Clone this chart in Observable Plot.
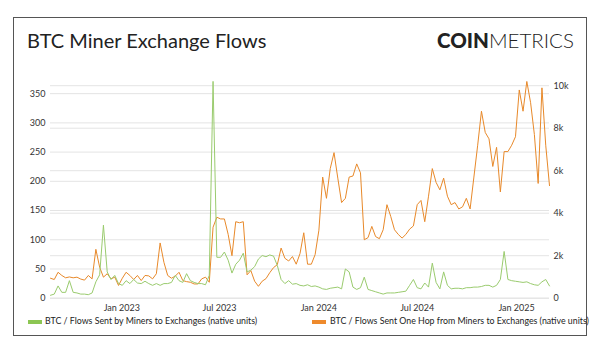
<!DOCTYPE html>
<html><head><meta charset="utf-8">
<script src="https://cdn.jsdelivr.net/npm/d3@7"></script>
<script src="https://cdn.jsdelivr.net/npm/@observablehq/plot@0.6"></script>
<style>
html,body{margin:0;padding:0;background:#fff;}
body{width:600px;height:351px;position:relative;overflow:hidden;font-family:Lato,sans-serif;}
#frame{position:absolute;left:13px;top:17px;width:574px;height:319px;border:1px solid #555;box-sizing:border-box;overflow:hidden;}
#title{position:absolute;left:27px;top:30px;font-size:20px;line-height:1;color:#222;white-space:nowrap;}
#logo{position:absolute;left:437px;top:30px;font-size:20.5px;line-height:1;color:#222;white-space:nowrap;}
#logo b{font-weight:900;}
#logo span{font-weight:300;}
#chart{position:absolute;left:0;top:0;}
.leg{position:absolute;top:317px;font-size:8.8px;line-height:1;color:#222;white-space:nowrap;}
.sw{position:absolute;top:320px;height:4px;width:14px;}
</style>
</head><body>
<div id="frame"></div>
<div id="title">BTC Miner Exchange Flows</div>
<div id="logo"><b>COIN</b><span>METRICS</span></div>
<div id="chart"></div>
<div class="sw" id="sw1" style="left:28px"></div>
<div class="leg" id="leg1" style="left:45px"></div>
<div class="sw" id="sw2" style="left:312px"></div>
<div class="leg" id="leg2" style="left:330px"></div>
<script>
// weekly dates
const dates = [
"2022-08-22","2022-08-29","2022-09-05","2022-09-12","2022-09-19","2022-09-26","2022-10-03","2022-10-10","2022-10-17","2022-10-24","2022-10-31","2022-11-07","2022-11-14","2022-11-21","2022-11-28","2022-12-05","2022-12-12","2022-12-19","2022-12-26",
"2023-01-02","2023-01-09","2023-01-16","2023-01-23","2023-01-30","2023-02-06","2023-02-13","2023-02-20","2023-02-27","2023-03-06","2023-03-13","2023-03-20","2023-03-27","2023-04-03","2023-04-10","2023-04-17","2023-04-24","2023-05-01","2023-05-08","2023-05-15","2023-05-22","2023-05-29","2023-06-05","2023-06-12","2023-06-19","2023-06-26","2023-07-03","2023-07-10","2023-07-17","2023-07-24","2023-07-31","2023-08-07","2023-08-14","2023-08-21","2023-08-28","2023-09-04","2023-09-11","2023-09-18","2023-09-25","2023-10-02","2023-10-09","2023-10-16","2023-10-23","2023-10-30","2023-11-06","2023-11-13","2023-11-20","2023-11-27","2023-12-04","2023-12-11","2023-12-18","2023-12-25",
"2024-01-01","2024-01-08","2024-01-15","2024-01-22","2024-01-29","2024-02-05","2024-02-12","2024-02-19","2024-02-26","2024-03-04","2024-03-11","2024-03-18","2024-03-25","2024-04-01","2024-04-08","2024-04-15","2024-04-22","2024-04-29","2024-05-06","2024-05-13","2024-05-20","2024-05-27","2024-06-03","2024-06-10","2024-06-17","2024-06-24","2024-07-01","2024-07-08","2024-07-15","2024-07-22","2024-07-29","2024-08-05","2024-08-12","2024-08-19","2024-08-26","2024-09-02","2024-09-09","2024-09-16","2024-09-23","2024-09-30","2024-10-07","2024-10-14","2024-10-21","2024-10-28","2024-11-04","2024-11-11","2024-11-18","2024-11-25","2024-12-02","2024-12-09","2024-12-16","2024-12-23","2024-12-30",
"2025-01-06","2025-01-13","2025-01-20","2025-01-27","2025-02-03","2025-02-10","2025-02-17","2025-02-24","2025-03-03"];

// BTC sent by miners to exchanges (left axis)
const minerFlows = [
5,7,21,10,10,30,10,9,7,7,6,9,28,40,125,45,32,39,25,22,
30,25,32,26,25,29,25,22,25,22,25,25,27,39,30,27,42,30,27,25,
25,23,39,371,70,70,79,65,43,58,65,77,45,48,54,67,73,71,74,72,
56,32,25,30,24,25,22,21,23,20,21,19,16,15,17,18,19,16,50,45,
19,15,18,36,15,13,11,9,7,9,9,9,10,11,12,22,32,18,16,26,
19,60,27,16,45,22,16,17,17,16,18,18,19,19,20,22,22,19,22,32,
80,32,30,29,28,27,28,25,23,22,28,32,21];

// BTC sent one hop from miners to exchanges (right axis)
const oneHopFlows = [
940,880,1220,1070,960,1000,960,990,900,850,1070,910,2300,1460,990,1150,910,990,600,940,
1220,1070,880,1070,830,1070,1050,910,1150,2600,1690,1070,940,1040,1220,830,780,750,670,670,
910,990,750,3340,3810,3730,3730,3000,2000,3600,3550,3600,1100,1300,800,560,800,920,1200,1440,
1580,2360,1880,1750,1960,1600,2100,3080,1600,1600,2050,3200,5700,4700,6100,6850,5650,4500,4700,5700,
5750,6320,5900,2750,2850,3380,2900,2800,3220,4400,3850,3220,3000,2830,3000,3250,3400,4400,4600,3600,
4800,6100,5450,5100,5650,4800,4400,4500,4200,4300,4700,4200,5700,7200,8800,7800,7500,6200,7100,5000,
6900,6900,7200,7600,9800,8800,10200,9200,7700,5400,9900,7200,5300];

const leftTicks = [0,50,100,150,200,250,300,350];
const rightTicks = [0,2000,4000,6000,8000,10000];
const rightTickLabels = ["0","2k","4k","6k","8k","10k"];
const xTickDates = ["2023-01-01","2023-07-01","2024-01-01","2024-07-01","2025-01-01"];
const xTickLabels = ["Jan 2023","Jul 2023","Jan 2024","Jul 2024","Jan 2025"];
const seriesNames = ["BTC / Flows Sent by Miners to Exchanges (native units)","BTC / Flows Sent One Hop from Miners to Exchanges (native units)"];
const colors = {green:"#9acb6e", orange:"#e8892a", legGreen:"#8cc653", legOrange:"#ee8a2c"};

const leftMax = 372.5, rightMax = 10245;
const k = leftMax / rightMax;
const rows = dates.map((d,i)=>({date:new Date(d), g:minerFlows[i], o:oneHopFlows[i]*k}));
const rightPos = rightTicks.map(v=>v*k);
const xTicks = xTickDates.map(d=>new Date(d));

const chart = Plot.plot({
  width:600, height:320,
  marginTop:80, marginBottom:22.3, marginLeft:50, marginRight:51,
  style:{background:"transparent", fontFamily:"Lato, sans-serif", fontSize:"9px", color:"#333"},
  x:{type:"utc", domain:[new Date(dates[0]), new Date(dates[dates.length-1])]},
  y:{domain:[0,leftMax]},
  marks:[
    Plot.ruleY(leftTicks, {stroke:"#e4e4e4", strokeWidth:1}),
    Plot.ruleY(rightPos, {stroke:"#e4e4e4", strokeWidth:1}),
    Plot.axisY(leftTicks, {anchor:"left", tickSize:0, tickPadding:5, label:null}),
    Plot.axisY(rightPos, {anchor:"right", tickSize:0, tickPadding:4, label:null,
      tickFormat:(d)=>rightTickLabels[rightPos.findIndex(p=>Math.abs(p-d)<1e-6)]}),
    Plot.axisX(xTicks, {tickSize:0, tickPadding:6, label:null,
      tickFormat:(d)=>xTickLabels[xTicks.findIndex(t=>t.getTime()===d.getTime())]}),
    Plot.lineY(rows, {x:"date", y:"o", stroke:colors.orange, strokeWidth:1}),
    Plot.lineY(rows, {x:"date", y:"g", stroke:colors.green, strokeWidth:1})
  ]
});
document.getElementById("chart").appendChild(chart);
document.getElementById("leg1").textContent = seriesNames[0];
document.getElementById("leg2").textContent = seriesNames[1];
document.getElementById("sw1").style.background = colors.legGreen;
document.getElementById("sw2").style.background = colors.legOrange;
</script>
</body></html>
